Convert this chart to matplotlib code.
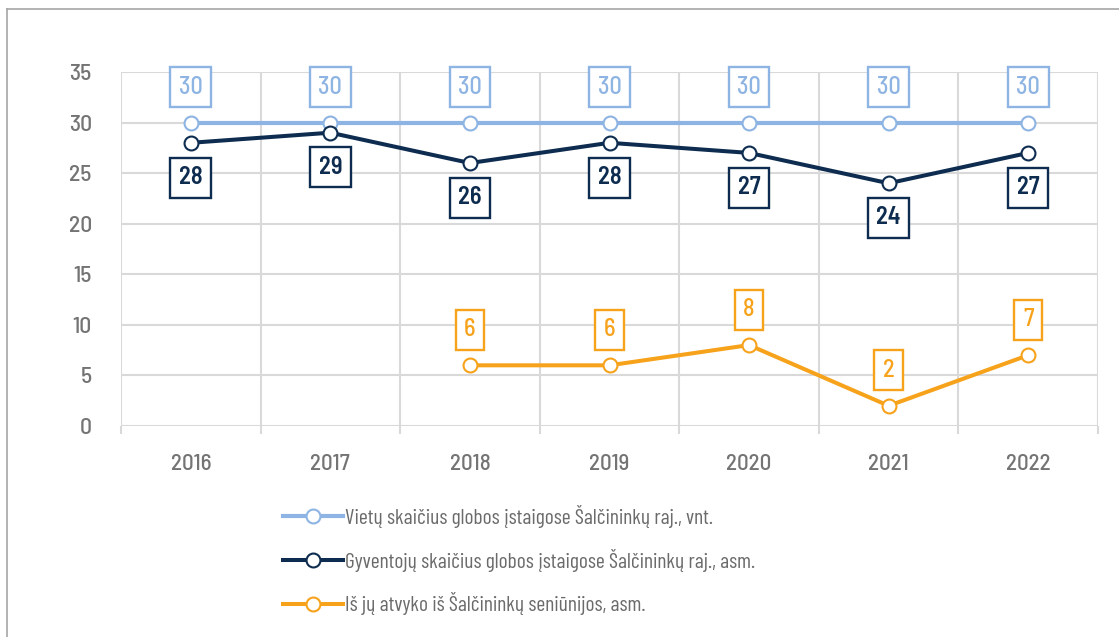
import numpy as np
import matplotlib
matplotlib.use("Agg")
import matplotlib.pyplot as plt
from matplotlib.lines import Line2D

plt.rcParams['font.family'] = ['Barlow Semi Condensed', 'Roboto', 'DejaVu Sans']

years = ["2016", "2017", "2018", "2019", "2020", "2021", "2022"]
vietos = [30, 30, 30, 30, 30, 30, 30]
gyventojai = [28, 29, 26, 28, 27, 24, 27]
is_seniunijos = [np.nan, np.nan, 6, 6, 8, 2, 7]
labels = [
    "Vietų skaičius globos įstaigose Šalčininkų raj., vnt.",
    "Gyventojų skaičius globos įstaigose Šalčininkų raj., asm.",
    "Iš jų atvyko iš Šalčininkų seniūnijos, asm.",
]

c_light = "#8db4e2"
c_dark = "#0d2c4f"
c_orange = "#f7a21b"
c_grid = "#d9d9d9"
c_text = "#747474"

fig = plt.figure(figsize=(11.19, 6.37), dpi=100)
ax = fig.add_axes([121 / 1119, 1 - 426 / 637, (1098 - 121) / 1119, (426 - 72) / 637])

x = np.arange(len(years))
series = [
    (vietos, c_light, 3.0, 25.5, "medium"),
    (gyventojai, c_dark, 2.9, -25, "semibold"),
    (is_seniunijos, c_orange, 2.9, 25.5, "medium"),
]
for (vals, col, lw, off, wt), lab in zip(series, labels):
    ax.plot(x, vals, color=col, lw=lw, marker="o", ms=10, mfc="white",
            mec=col, mew=1.5, label=lab, zorder=3)
    for xi, v in zip(x, vals):
        if np.isnan(v):
            continue
        ax.annotate(f"{int(v)}", (xi, v), xytext=(0, off), textcoords="offset points",
                    ha="center", va="center", fontsize=17.5, color=col, fontweight=wt,
                    bbox=dict(boxstyle="square,pad=0.35", fc="white", ec=col, lw=1.7),
                    zorder=4)

ax.set_xlim(-0.5, len(years) - 0.5)
ax.set_ylim(0, 35)
ax.set_yticks(np.arange(0, 36, 5))
ax.set_xticks(x)
ax.set_xticklabels(years)
ax.set_xticks(np.arange(-0.5, len(years), 1), minor=True)
for s in ax.spines.values():
    s.set_visible(False)
ax.grid(axis="y", color=c_grid, lw=1.5)
ax.grid(axis="x", which="minor", color=c_grid, lw=1.5)
ax.set_axisbelow(True)
ax.tick_params(axis="y", length=0, pad=21, labelsize=17, labelcolor=c_text)
ax.tick_params(axis="x", which="major", length=0, pad=20, labelsize=16.5, labelcolor=c_text)
ax.tick_params(axis="x", which="minor", length=6, width=1.5, color=c_grid)
for t in ax.get_xticklabels() + ax.get_yticklabels():
    t.set_fontweight("medium")

leg = fig.legend(loc="upper left", bbox_to_anchor=(283 / 1119, 1 - 505 / 637), frameon=False,
                 prop={"family": ["Barlow Condensed", "Roboto", "DejaVu Sans"], "size": 15.5},
                 labelcolor="#6b6b6b", handlelength=2.8, handletextpad=0.1,
                 labelspacing=0.96, borderpad=0, borderaxespad=0)

# outer frame (cut off at the right and bottom)
fig.add_artist(Line2D([7 / 1119, 1.0], [1 - 9 / 637] * 2, color="#a6a6a6", lw=1.2))
fig.add_artist(Line2D([7 / 1119] * 2, [0.0, 1 - 9 / 637], color="#a6a6a6", lw=1.2))

fig.savefig("out.png", dpi=100)
